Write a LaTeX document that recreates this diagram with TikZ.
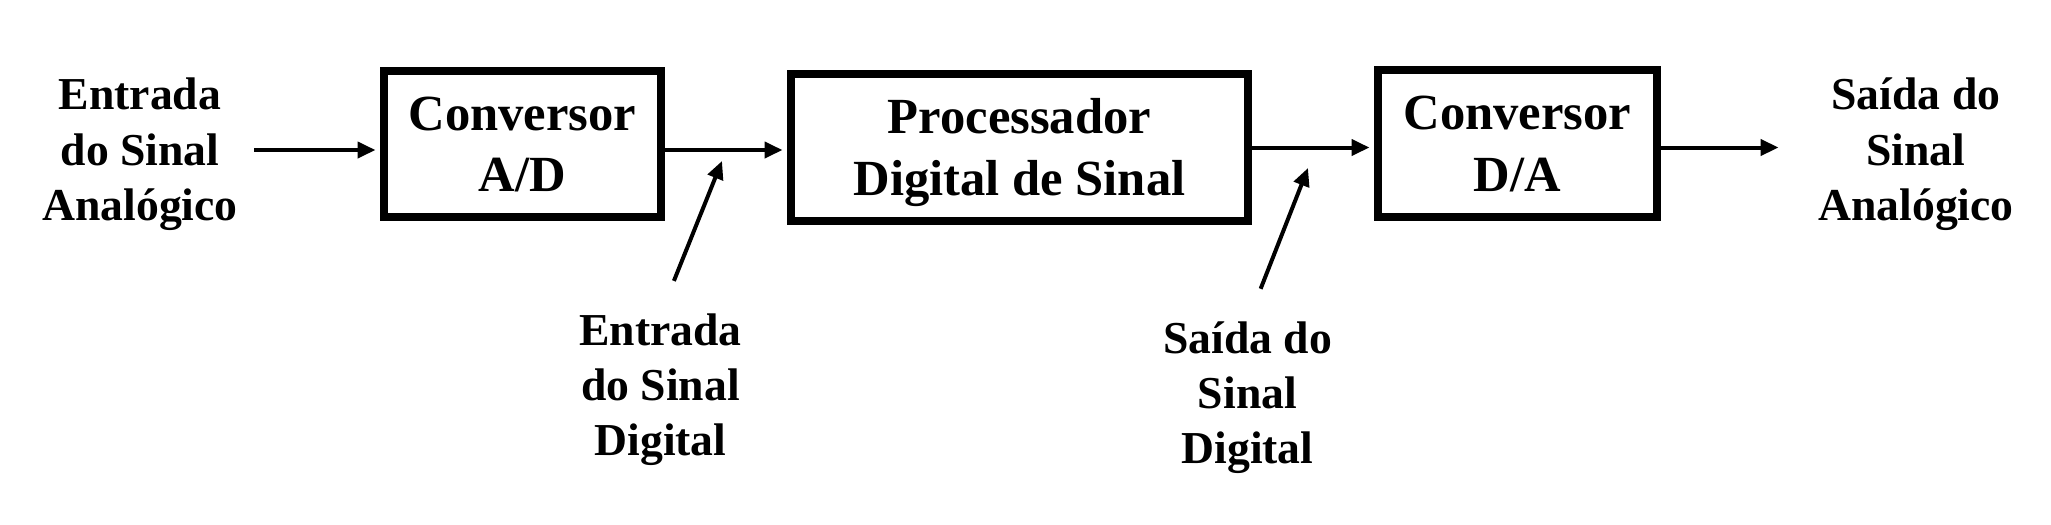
\documentclass[tikz,border=0pt]{standalone}
\usepackage{fontspec}
\setmainfont{Liberation Serif}
\usetikzlibrary{arrows.meta}

\begin{document}
\begin{tikzpicture}[
        blk/.style={draw, line width=0.08cm, minimum height=1.46cm, inner sep=0pt, align=center,
            text height=0.95cm, text depth=0pt, font=\fontsize{14.4pt}{17.36pt}\selectfont\bfseries},
        lbl/.style={inner sep=0pt, align=center, text height=1.40cm, text depth=0pt,
            font=\fontsize{13pt}{15.65pt}\selectfont\bfseries},
        sig/.style={-{Triangle[length=0.18cm, width=0.16cm]}, line width=0.04cm, shorten >=0.045cm}]
            \useasboundingbox (0,0) rectangle (20.51,5.24);

            \node[blk, minimum width=2.77cm] (ad) at (5.225,3.80) {Conversor\\A/D};
            \node[blk, minimum width=4.57cm, minimum height=1.47cm] (dsp) at (10.195,3.765) {Processador\\Digital de Sinal};
            \node[blk, minimum width=2.79cm, minimum height=1.47cm] (da) at (15.175,3.805) {Conversor\\D/A};

            \node[lbl] (ain) at (1.40,3.74) {Entrada\\do Sinal\\Analógico};
            \node[lbl] (aout) at (19.16,3.74) {Saída do\\Sinal\\Analógico};
            \node[lbl] (din) at (6.605,1.39) {Entrada\\do Sinal\\Digital};
            \node[lbl] (dout) at (12.475,1.31) {Saída do\\Sinal\\Digital};

            \coordinate (dinTip) at (7.22,3.63);
            \coordinate (doutTip) at (13.08,3.56);

            \draw[sig, shorten <=0.16cm] (ain.east) -- (ain.east -| ad.west);
            \draw[sig] (ad.east |- ain.east) -- (ain.east -| dsp.west);
            \draw[sig] (dsp.east) -- (dsp.east -| da.west);
            \draw[sig, shorten >=0.39cm] (dsp.east -| da.east) -- (dsp.east -| aout.west);

            \draw[sig, shorten >=0pt, shorten <=0.36cm] (din.north) -- (dinTip);
            \draw[sig, shorten >=0pt, shorten <=0.36cm] (dout.north) -- (doutTip);
        \end{tikzpicture}
\end{document}
